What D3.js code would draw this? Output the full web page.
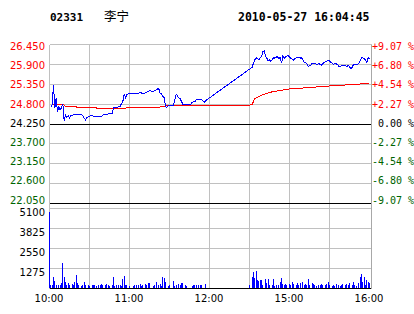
<!DOCTYPE html>
<html><head><meta charset="utf-8">
<script src="https://cdn.jsdelivr.net/npm/d3@7"></script>
<style>
html,body{margin:0;padding:0;background:#fff;}
svg{display:block;}
text{white-space:pre;}
</style></head><body>
<svg id="c" width="414" height="314"></svg>
<script>
// ---- data ----
const stockCode = "02331";
const stockName = "李宁";
const timestamp = "2010-05-27 16:04:45";
const prevClose = 24.25;
const priceTicks = [26.450, 25.900, 25.350, 24.800, 24.250, 23.700, 23.150, 22.600, 22.050];
const pctTicks = ["+9.07 %", "+6.80 %", "+4.54 %", "+2.27 %", " 0.00 %", "-2.27 %", "-4.54 %", "-6.80 %", "-9.07 %"];
const volTicks = [5100, 3825, 2550, 1275];
const timeTickMinutes = [0, 60, 120, 180, 240];
const timeTickLabels = ["10:00", "11:00", "12:00", "15:00", "16:00"];
// [minute since 10:00 (trading minutes), price]
const priceLine = [
 [1,24.73],[2,24.78],[3,25.34],[4,24.69],[5,24.98],[6,24.59],[7,24.73],[8,24.64],[9,24.70],[10,24.80],
 [11,24.33],[12,24.50],[13,24.44],[14,24.48],[15,24.41],[16,24.48],[19,24.52],[24,24.52],[25,24.47],[27,24.36],
 [28,24.43],[30,24.47],[32,24.48],[34,24.46],[39,24.46],[40,24.50],[43,24.52],[45,24.54],[47,24.55],[48,24.70],
 [53,24.73],[54,24.82],[55,24.87],[56,25.08],[57,24.98],[58,25.06],[60,25.10],[69,25.11],[70,25.08],[73,25.13],
 [75,25.17],[78,25.15],[81,25.22],[82,25.22],[83,25.10],[84,25.08],[85,25.02],[86,24.98],[87,24.73],[88,24.71],
 [89,24.75],[93,24.76],[95,25.08],[97,24.97],[98,24.95],[99,24.87],[100,24.80],[106,24.80],[107,24.85],[109,24.87],
 [110,24.92],[114,24.92],[116,24.85],[118,24.92],[152,25.82],[153,25.94],[154,26.03],[155,26.08],[157,26.03],[159,26.12],
 [160,26.25],[161,26.27],[162,26.12],[163,26.07],[164,26.00],[165,26.02],[166,25.98],[167,26.02],[168,26.09],[169,26.07],
 [171,26.12],[172,26.05],[173,26.09],[174,25.93],[175,26.12],[176,26.07],[177,26.11],[179,26.14],[181,26.07],[183,26.02],
 [184,26.07],[187,26.09],[188,26.07],[189,26.09],[191,25.96],[193,25.92],[194,25.85],[196,25.87],[197,25.93],[199,25.92],
 [201,25.90],[202,25.92],[204,25.88],[206,25.96],[208,25.98],[209,26.02],[211,25.96],[212,25.94],[213,25.90],[214,25.93],
 [216,25.90],[217,25.85],[218,25.84],[219,25.87],[221,25.88],[222,25.87],[223,25.84],[224,25.88],[226,25.79],[227,25.81],
 [228,25.90],[231,25.90],[232,25.92],[234,26.09],[236,26.07],[237,26.02],[238,25.96],[239,26.09],[240,26.04]
];
const avgLine = [
 [1,24.76],[3,24.80],[10,24.80],[12,24.73],[20,24.73],[21,24.70],[35,24.70],[36,24.67],[48,24.67],[49,24.69],
 [57,24.69],[58,24.71],[80,24.71],[85,24.73],[88,24.76],[150,24.77],[152,24.80],[154,24.95],[157,25.01],[160,25.06],
 [163,25.10],[167,25.14],[180,25.22],[192,25.25],[209,25.30],[222,25.33],[234,25.36],[240,25.37]
];
const volumeBars = [
 [0,4900],[1,200],[2,200],[3,715],[4,480],[5,200],[7,225],[8,225],[9,330],[10,1645],[11,715],[12,415],[13,200],[14,370],
 [15,200],[17,290],[18,200],[19,415],[20,860],[21,330],[22,200],[24,160],[25,200],[26,415],[27,200],[29,200],[30,160],
 [32,225],[33,200],[34,225],[35,160],[37,200],[38,200],[39,290],[40,200],[42,200],[43,290],[44,200],[45,180],[47,200],
 [48,715],[49,160],[50,200],[52,200],[53,200],[54,160],[55,625],[56,800],[57,200],[58,200],[60,160],[63,160],[64,200],
 [65,200],[67,225],[68,290],[69,160],[70,200],[72,290],[73,200],[74,370],[75,330],[78,160],[79,200],[80,415],[82,200],
 [83,265],[84,160],[85,715],[86,650],[87,415],[89,160],[90,200],[93,460],[94,160],[95,200],[97,310],[98,200],[99,330],
 [100,370],[102,200],[103,160],[107,160],[108,200],[109,200],[110,200],[112,200],[113,200],[114,225],[117,290],
 [150,225],[152,750],[153,1030],[154,650],[155,1135],[156,540],[157,500],[158,540],[159,540],[160,225],[162,585],
 [163,330],[164,585],[165,225],[167,200],[168,605],[169,160],[170,200],[172,200],[173,435],[174,650],[175,290],[176,200],
 [177,265],[178,200],[180,290],[181,200],[182,415],[183,290],[185,200],[186,330],[187,200],[188,330],[190,435],[191,200],
 [192,290],[193,200],[194,605],[195,200],[197,330],[198,290],[199,200],[200,160],[202,200],[203,200],[204,290],[205,200],
 [207,200],[208,290],[209,415],[210,200],[212,160],[213,200],[214,160],[215,290],[217,200],[218,160],[219,200],[220,290],
 [222,200],[223,290],[224,200],[225,330],[227,200],[228,415],[229,200],[230,160],[232,330],[233,715],[234,925],[235,435],
 [236,715],[237,200],[238,540],[239,435],[240,330]
];

// ---- drawing ----
const svg = d3.select("#c");
const L = 49.5, R = 371.5;
const x = d3.scaleLinear().domain([0, 240]).range([49.5, 369.5]);
const y = d3.scaleLinear().domain([22.05, 26.45]).range([203.5, 44.5]);
const yv = d3.scaleLinear().domain([0, 5100]).range([288.5, 208.5]);
const snap = v => Math.floor(v) + 0.5;
const RED = "#ff0000", GREEN = "#006400", GRID = "#c0c0c0";

const g = svg.append("g").attr("shape-rendering", "crispEdges");

// vertical grid
d3.range(30, 240, 30).forEach(m => {
  g.append("line").attr("x1", snap(x(m))).attr("x2", snap(x(m)))
   .attr("y1", 44.5).attr("y2", 288.5).attr("stroke", GRID);
});
// horizontal price grid
priceTicks.forEach(p => {
  const yy = snap(y(p));
  g.append("line").attr("x1", L).attr("x2", R).attr("y1", yy).attr("y2", yy)
   .attr("stroke", (p === prevClose || p === priceTicks[priceTicks.length-1]) ? "#000" : GRID);
});
// volume grid
volTicks.forEach(v => {
  const yy = snap(yv(v));
  g.append("line").attr("x1", L).attr("x2", R).attr("y1", yy).attr("y2", yy).attr("stroke", GRID);
});
g.append("line").attr("x1", L).attr("x2", R).attr("y1", snap(yv(0))).attr("y2", snap(yv(0))).attr("stroke", "#000");
// frame sides
g.append("line").attr("x1", L).attr("x2", L).attr("y1", 44.5).attr("y2", 288.5).attr("stroke", GRID);
g.append("line").attr("x1", R).attr("x2", R).attr("y1", 44.5).attr("y2", 288.5).attr("stroke", "#a8a8a8");

// volume bars
g.selectAll("rect.v").data(volumeBars).enter().append("rect")
  .attr("x", d => Math.floor(x(d[0])))
  .attr("width", 1)
  .attr("y", d => Math.round(yv(d[1])))
  .attr("height", d => 288 - Math.round(yv(d[1])))
  .attr("fill", "#0000ff");

const line = d3.line().x(d => x(d[0])).y(d => y(d[1]));
g.append("path").datum(avgLine).attr("d", line).attr("fill", "none").attr("stroke", RED).attr("stroke-width", 1);
g.append("path").datum(priceLine).attr("d", line).attr("fill", "none").attr("stroke", "#0000ff").attr("stroke-width", 1);

// labels
const labelY = i => 46.3 + i * 19.2;
priceTicks.forEach((p, i) => {
  const col = p > prevClose ? RED : (p < prevClose ? GREEN : "#000");
  svg.append("text").attr("x", 45).attr("y", labelY(i)).attr("dy", "0.36em")
    .attr("text-anchor", "end").attr("font-family", "DejaVu Sans").attr("font-size", 10)
    .attr("fill", col).text(p.toFixed(3));
  svg.append("text").attr("x", 372).attr("y", labelY(i)).attr("dy", "0.36em")
    .attr("font-family", "DejaVu Sans Mono").attr("font-size", 10)
    .attr("fill", col).text(pctTicks[i]);
});
volTicks.forEach(v => {
  svg.append("text").attr("x", 45).attr("y", yv(v) + 4).attr("dy", "0.36em")
    .attr("text-anchor", "end").attr("font-family", "DejaVu Sans").attr("font-size", 10)
    .attr("fill", "#000").text(v);
});
timeTickMinutes.forEach((m, i) => {
  svg.append("text").attr("x", x(m) - 0.5).attr("y", 302)
    .attr("text-anchor", "middle").attr("font-family", "DejaVu Sans").attr("font-size", 10)
    .attr("fill", "#000").text(timeTickLabels[i]);
});
// title
svg.append("text").attr("x", 50).attr("y", 20.7).attr("font-family", "DejaVu Sans Mono")
  .attr("font-weight", "bold").attr("font-size", 11).attr("fill", "#000").text(stockCode);
svg.append("text").attr("x", 104).attr("y", 20.5).attr("font-family", "Noto Sans CJK SC")
  .attr("font-size", 12.5).attr("fill", "#000").text(stockName);
svg.append("text").attr("x", 238).attr("y", 20.7).attr("font-family", "DejaVu Sans Mono")
  .attr("font-weight", "bold").attr("font-size", 11.5).attr("fill", "#000").text(timestamp);
</script>
</body></html>
